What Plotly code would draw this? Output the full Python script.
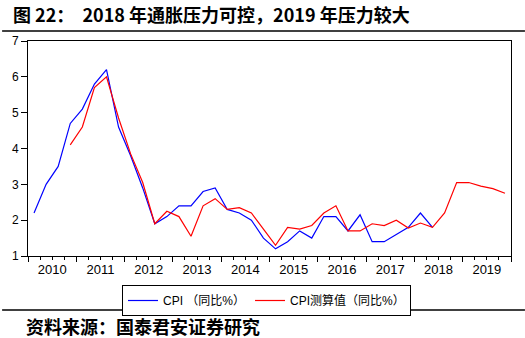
import plotly.graph_objects as go

# ---- data (quarterly, 2010Q1 .. 2019Q4) ----
quarters = [f"{y}Q{q}" for y in range(2010, 2020) for q in range(1, 5)]
cpi = [2.2, 3.0, 3.5, 4.7, 5.1, 5.8, 6.2, 4.6, 3.8, 2.9, 1.9, 2.1,
       2.4, 2.4, 2.8, 2.9, 2.3, 2.2, 2.0, 1.5, 1.2, 1.4, 1.7, 1.5,
       2.1, 2.1, 1.7, 2.15, 1.4, 1.4, 1.6, 1.8, 2.2, 1.8]
cpi_est = [None, None, None, 4.1, 4.6, 5.7, 6.0, 4.85, 3.85, 3.05, 1.9, 2.25,
           2.1, 1.55, 2.4, 2.6, 2.3, 2.35, 2.2, 1.75, 1.3, 1.8, 1.75, 1.85,
           2.2, 2.4, 1.7, 1.7, 1.9, 1.85, 2.0, 1.78, 1.92, 1.8, 2.2, 3.05,
           3.05, 2.95, 2.88, 2.75]
year_labels = [str(y) for y in range(2010, 2020)]
name_cpi = "CPI （同比%）"
name_est = "CPI测算值（同比%）"
title_text = "图 22：  2018 年通胀压力可控，2019 年压力较大"
source_text = "资料来源：国泰君安证券研究"

# quarter centres on a year axis
def qpos(label):
    y, q = label.split("Q")
    return int(y) + (int(q) - 0.5) / 4

xs = [qpos(q) for q in quarters]

W, H = 525, 338
L, R, T, B = 26, 14, 41, 82
pw, ph = W - L - R, H - T - B
def px(x):  # pixel -> paper x
    return (x - L) / pw
def py(y):  # pixel -> paper y
    return (H - B - y) / ph

LAT = "Liberation Sans, Arial, Noto Sans CJK SC, sans-serif"
CJK = "Noto Sans CJK SC, sans-serif"

fig = go.Figure()
fig.add_trace(go.Scatter(x=xs[:len(cpi)], y=cpi, mode="lines", name=name_cpi,
                         line=dict(color="#0000FF", width=1.2)))
fig.add_trace(go.Scatter(x=xs, y=cpi_est, mode="lines", name=name_est,
                         line=dict(color="#FF0000", width=1.2), xaxis="x2"))

fig.update_layout(
    width=W, height=H,
    margin=dict(l=L, r=R, t=T, b=B),
    paper_bgcolor="white", plot_bgcolor="white",
    font=dict(family=LAT, size=12, color="black"),
    xaxis=dict(range=[2010, 2020], tickvals=list(range(2010, 2021)),
               showticklabels=False, ticks="outside", ticklen=5, tickcolor="black",
               minor=dict(tick0=2010, dtick=0.25, ticks="outside", ticklen=3,
                          tickcolor="black"),
               showline=True, linecolor="black", linewidth=1, mirror=True,
               showgrid=False, zeroline=False, fixedrange=True),
    xaxis2=dict(range=[2010, 2020], overlaying="x", anchor="y", side="bottom",
                tickvals=[int(y) + 0.5 for y in year_labels], ticktext=year_labels,
                ticks="", showline=False, showgrid=False, zeroline=False,
                tickfont=dict(family=LAT, size=13), ticklabelstandoff=4),
    yaxis=dict(range=[1, 7], dtick=1, ticks="outside", ticklen=6, tickcolor="black",
               showline=True, linecolor="black", linewidth=1, mirror=True,
               showgrid=False, zeroline=False, tickfont=dict(family=LAT, size=12)),
    legend=dict(orientation="h", x=px(265.5), xanchor="center", y=py(285), yanchor="top",
                bordercolor="black", borderwidth=1, font=dict(family=LAT, size=12),
                itemwidth=30, tracegroupgap=0),
    showlegend=True,
)

fig.add_annotation(text=title_text, xref="paper", yref="paper", x=px(9), y=py(14),
                   xanchor="left", yanchor="middle", showarrow=False,
                   font=dict(family=CJK, size=18, color="black", weight="bold"))
fig.add_annotation(text=source_text, xref="paper", yref="paper", x=px(22), y=py(326),
                   xanchor="left", yanchor="middle", showarrow=False,
                   font=dict(family=CJK, size=18, color="black", weight="bold"))
fig.add_shape(type="line", xref="paper", yref="paper", x0=px(0), x1=px(W), y0=py(31), y1=py(31),
              line=dict(color="black", width=1.5))
fig.add_shape(type="line", xref="paper", yref="paper", x0=px(0), x1=px(W), y0=py(310), y1=py(310),
              line=dict(color="black", width=1.5))

fig.write_html("out.html")
